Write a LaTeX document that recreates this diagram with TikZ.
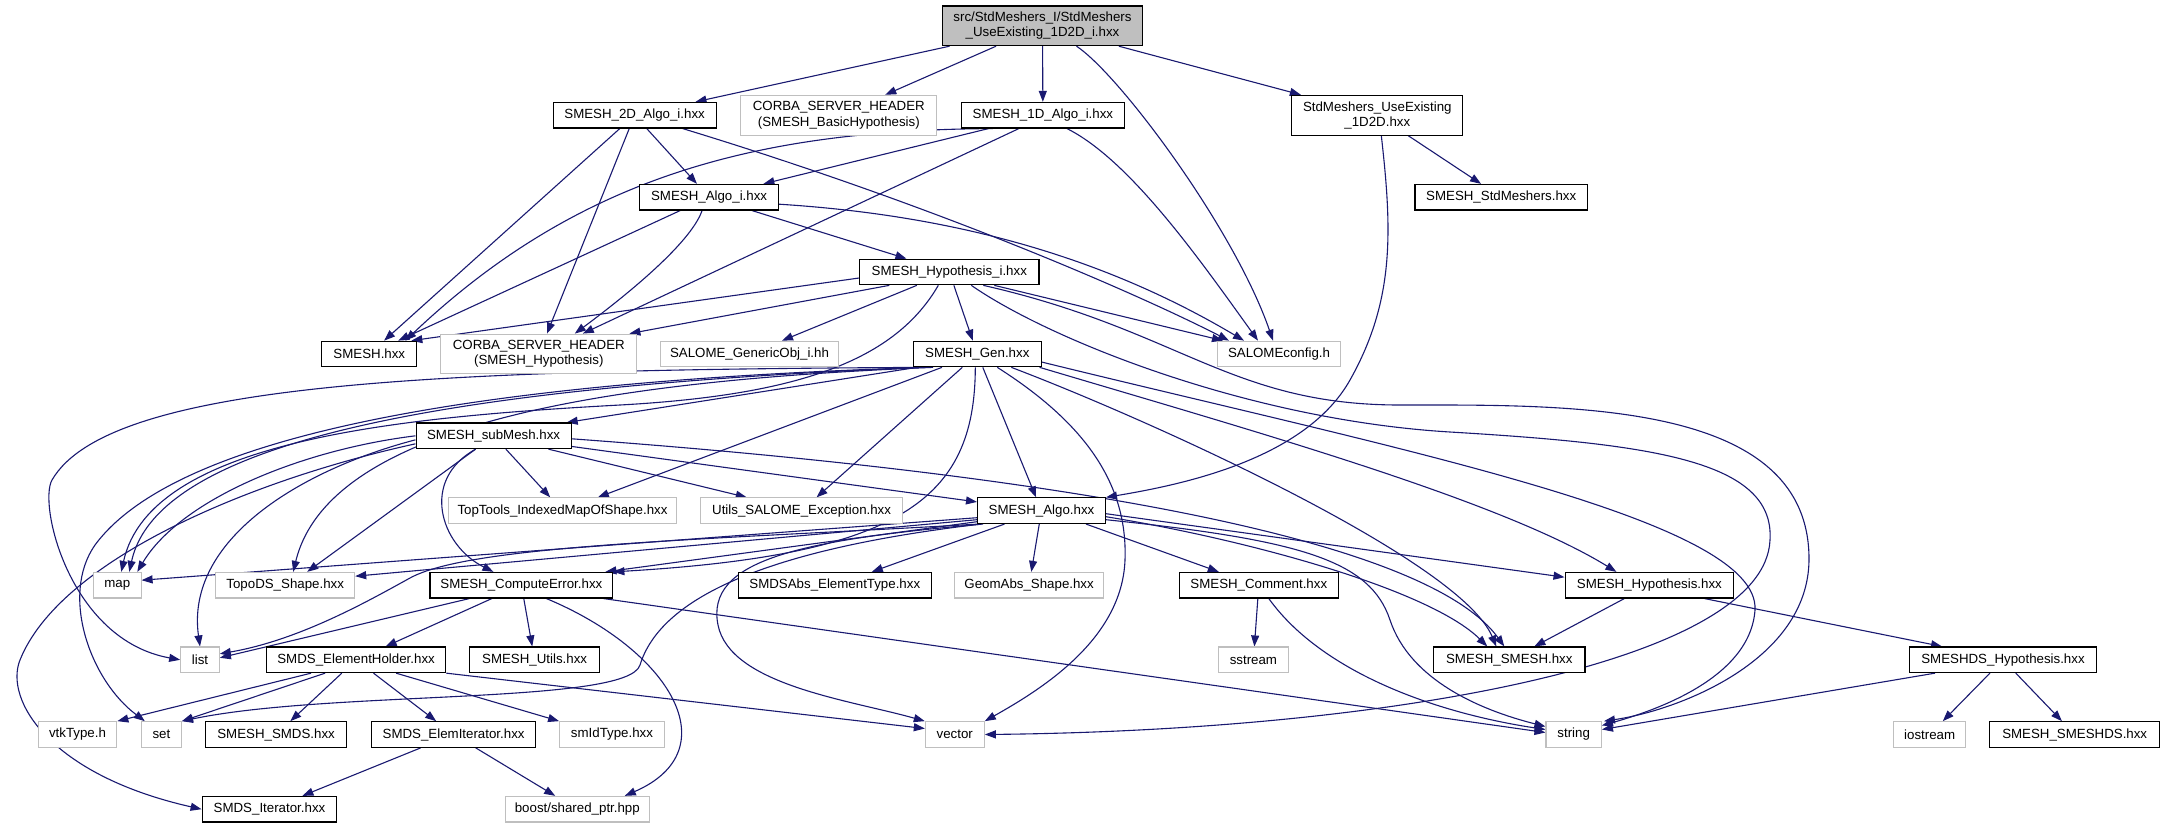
\documentclass[tikz,border=0pt]{standalone}
\usepackage{fontspec}
\setmainfont{Liberation Sans}
\usetikzlibrary{arrows.meta,calc}
\definecolor{edgeblue}{HTML}{191970}
\definecolor{extgray}{HTML}{BFBFBF}
\pgfdeclarelayer{bg}
\pgfsetlayers{bg,main}
\begin{document}
\begin{tikzpicture}[x=1pt,y=-1pt,
  nd/.style={draw=black,line width=1.1pt,fill=white,inner sep=0pt,minimum height=25.6pt,align=center,font=\fontsize{13.3}{15.3}\selectfont},
  ext/.style={nd,draw=extgray},
  dbl/.style={minimum height=39.7pt},
  rootn/.style={nd,fill=extgray},
  e/.style={draw=edgeblue,line width=1.1pt,-{Triangle[length=11pt,width=8pt]}}]
\useasboundingbox (0,0) rectangle (2165,828);

% row 0
\node[rootn,dbl,minimum width=199.2pt] (root) at (1042.5,25.8) {src/StdMeshers\_I/StdMeshers\\\_UseExisting\_1D2D\_i.hxx};
% row 1
\node[nd,minimum width=162.9pt] (a2d) at (634.6,115.2) {SMESH\_2D\_Algo\_i.hxx};
\node[ext,dbl,minimum width=196.1pt] (cbh) at (838.8,115.2) {CORBA\_SERVER\_HEADER\\(SMESH\_BasicHypothesis)};
\node[nd,minimum width=162.9pt] (a1d) at (1042.9,115.2) {SMESH\_1D\_Algo\_i.hxx};
\node[nd,dbl,minimum width=171.1pt] (ue) at (1377.3,115.2) {StdMeshers\_UseExisting\\\_1D2D.hxx};
% row 2
\node[nd,minimum width=139pt] (algoi) at (709.1,197.2) {SMESH\_Algo\_i.hxx};
\node[nd,minimum width=172.5pt] (stdm) at (1501.2,197.2) {SMESH\_StdMeshers.hxx};
% row 3
\node[nd,minimum width=179.3pt] (hypi) at (949.3,272) {SMESH\_Hypothesis\_i.hxx};
% row 4
\node[nd,minimum width=95pt] (smesh) at (369.3,354) {SMESH.hxx};
\node[ext,dbl,minimum width=196.1pt] (ch) at (538.8,354) {CORBA\_SERVER\_HEADER\\(SMESH\_Hypothesis)};
\node[ext,minimum width=177.5pt] (gobj) at (749.5,354) {SALOME\_GenericObj\_i.hh};
\node[nd,minimum width=127.5pt] (gen) at (977.3,354) {SMESH\_Gen.hxx};
\node[ext,minimum width=122.9pt] (sconf) at (1279,354) {SALOMEconfig.h};
% row 5
\node[nd,minimum width=155.1pt] (sub) at (493.6,435.8) {SMESH\_subMesh.hxx};
% row 6
\node[ext,minimum width=228.6pt] (tt) at (562.5,510.7) {TopTools\_IndexedMapOfShape.hxx};
\node[ext,minimum width=201.8pt] (ue2) at (801.6,510.7) {Utils\_SALOME\_Exception.hxx};
\node[nd,minimum width=127.9pt] (algo) at (1041.5,510.7) {SMESH\_Algo.hxx};
% row 7
\node[ext,minimum width=47.5pt] (nmap) at (117.3,585.2) {map};
\node[ext,minimum width=138.9pt] (topo) at (285.2,585.2) {TopoDS\_Shape.hxx};
\node[nd,minimum width=182.9pt] (ce) at (521.4,585.2) {SMESH\_ComputeError.hxx};
\node[nd,minimum width=192.5pt] (sabs) at (834.8,585.2) {SMDSAbs\_ElementType.hxx};
\node[ext,minimum width=149.6pt] (geom) at (1029.1,585.2) {GeomAbs\_Shape.hxx};
\node[nd,minimum width=158.9pt] (comm) at (1258.8,585.2) {SMESH\_Comment.hxx};
\node[nd,minimum width=168.7pt] (hyp) at (1649.4,585.2) {SMESH\_Hypothesis.hxx};
% row 8
\node[ext,minimum width=38.6pt] (nlist) at (200,659.8) {list};
\node[nd,minimum width=179.3pt] (eh) at (356.1,659.8) {SMDS\_ElementHolder.hxx};
\node[nd,minimum width=130pt] (utils) at (534.6,659.8) {SMESH\_Utils.hxx};
\node[ext,minimum width=69.6pt] (sstream) at (1253.4,659.8) {sstream};
\node[nd,minimum width=151.4pt] (ss) at (1509.3,659.8) {SMESH\_SMESH.hxx};
\node[nd,minimum width=186.3pt] (dshyp) at (2003,659.8) {SMESHDS\_Hypothesis.hxx};
% row 9
\node[ext,minimum width=78.6pt] (vtk) at (77.5,734.5) {vtkType.h};
\node[ext,minimum width=40pt] (nset) at (161.4,734.5) {set};
\node[nd,minimum width=141.4pt] (smds) at (276.1,734.5) {SMESH\_SMDS.hxx};
\node[nd,minimum width=164.3pt] (ei) at (453.6,734.5) {SMDS\_ElemIterator.hxx};
\node[ext,minimum width=104.7pt] (smid) at (612,734.5) {smIdType.hxx};
\node[ext,minimum width=58.9pt] (nvec) at (954.8,734.5) {vector};
\node[ext,minimum width=55.4pt] (nstr) at (1573.7,734.5) {string};
\node[ext,minimum width=72.1pt] (ios) at (1929.7,734.5) {iostream};
\node[nd,minimum width=169.7pt] (smeshds) at (2074.7,734.5) {SMESH\_SMESHDS.hxx};
% row 10
\node[nd,minimum width=134.7pt] (iter) at (269.5,809.2) {SMDS\_Iterator.hxx};
\node[ext,minimum width=143.9pt] (boost) at (577.3,809.2) {boost/shared\_ptr.hpp};

\begin{pgfonlayer}{bg}
% root
\draw[e] (root) -- (a2d);
\draw[e] (root) -- (cbh);
\draw[e] (root) -- (a1d);
\draw[e] (root) -- (ue);
\draw[e] ($(root.south)+(34,0)$) .. controls (1120,75) and (1235,230) .. ($(sconf.north)+(-6,0)$);
% 2D algo
\draw[e] (a2d) -- (algoi);
\draw[e] (a2d) -- (smesh);
\draw[e] (a2d) -- (ch);
\draw[e] ($(a2d.south)+(48,0)$) .. controls (950,210) and (1150,300) .. ($(sconf.north)+(-50,0)$);
% 1D algo
\draw[e] (a1d) -- (algoi);
\draw[e] ($(a1d.south)+(-50,0)$) .. controls (760,130) and (580,175) .. ($(smesh.north east)+(-12,0)$);
\draw[e] ($(a1d.south)+(-24,0)$) -- ($(ch.north)+(44,0)$);
\draw[e] ($(a1d.south)+(24,0)$) .. controls (1130,160) and (1200,260) .. ($(sconf.north)+(-21,0)$);
% Algo_i
\draw[e] (algoi) -- (hypi);
\draw[e] (algoi) -- (smesh);
\draw[e] ($(algoi.south)+(-7,0)$) .. controls (690,245) and (620,300) .. ($(ch.north)+(36,0)$);
\draw[e] ($(algoi.east)+(0,7)$) .. controls (950,215) and (1100,255) .. ($(sconf.north)+(-35,0)$);
% Hypothesis_i
\draw[e] ($(hypi.west)+(0,6)$) -- ($(smesh.north east)+(-6,0)$);
\draw[e] ($(hypi.south)+(-60,0)$) -- ($(ch.north east)+(-8,0)$);
\draw[e] (hypi) -- (gobj);
\draw[e] (hypi) -- (gen);
\draw[e] ($(hypi.south)+(45,0)$) -- ($(sconf.north)+(-56,0)$);
\draw[e] ($(hypi.south)+(-11,0)$) .. controls (895,360) and (800,395) .. (620,405) .. controls (400,417) and (150,440) .. ($(nmap.north)+(4,0)$);
\draw[e] ($(hypi.south)+(22,0)$) .. controls (1050,340) and (1250,420) .. (1450,432) .. controls (1650,444) and (1775,460) .. (1770,540) .. controls (1765,660) and (1400,730) .. (nvec.east);
\draw[e] ($(hypi.south)+(34,0)$) .. controls (1180,330) and (1230,405) .. (1400,405) .. controls (1570,405) and (1810,400) .. (1809,560) .. controls (1808,660) and (1680,710) .. ($(nstr.north east)+(2,0)$);
% Gen
\draw[e] ($(gen.south west)+(4,0)$) -- ($(sub.north east)+(-5,0)$);
\draw[e] ($(gen.south west)+(8,0)$) .. controls (500,385) and (160,430) .. ($(nmap.north)+(12,0)$);
\draw[e] ($(gen.south west)+(12,0)$) .. controls (450,370) and (110,380) .. (52,480) .. controls (38,505) and (70,640) .. (nlist.west);
\draw[e] ($(gen.south west)+(16,0)$) .. controls (500,380) and (180,430) .. (95,545) .. controls (60,595) and (90,680) .. ($(nset.north west)+(4,0)$);
\draw[e] ($(gen.south west)+(20,0)$) .. controls (620,380) and (330,420) .. ($(topo.north)+(8,0)$);
\draw[e] (gen) -- (tt);
\draw[e] (gen) -- (ue2);
\draw[e] (gen) -- (algo);
\draw[e] ($(gen.south)+(-2,0)$) .. controls (975,500) and (900,555) .. (ce.north east);
\draw[e] ($(gen.south)+(20,0)$) .. controls (1080,420) and (1128,480) .. (1125,560) .. controls (1122,640) and (1040,690) .. (nvec.north east);
\draw[e] ($(gen.south)+(34,0)$) .. controls (1150,420) and (1460,560) .. ($(ss.north)+(-13,0)$);
\draw[e] ($(gen.south east)+(-2,0)$) .. controls (1250,430) and (1500,500) .. ($(hyp.north)+(-33,0)$);
\draw[e] ($(gen.east)+(0,8)$) .. controls (1400,450) and (1760,520) .. (1755,610) .. controls (1750,680) and (1650,712) .. ($(nstr.east)+(0,-9)$);
% subMesh
\draw[e] (sub) -- (tt);
\draw[e] (sub) -- (ue2);
\draw[e] (sub) -- (algo);
\draw[e] ($(sub.east)+(0,3)$) .. controls (1000,470) and (1420,530) .. ($(ss.north)+(-5,0)$);
\draw[e] ($(sub.south)+(-18,0)$) .. controls (420,480) and (440,545) .. ($(ce.north)+(-28,0)$);
\draw[e] ($(sub.south)+(-18,0)$) -- ($(topo.north)+(22,0)$);
\draw[e] ($(sub.west)+(0,4)$) .. controls (300,470) and (185,540) .. (nlist.north);
\draw[e] ($(sub.west)+(0,8)$) .. controls (250,480) and (60,560) .. (20,660) .. controls (4,700) and (50,775) .. (iter.west);
\draw[e] (sub.west) .. controls (300,450) and (180,500) .. ($(nmap.north)+(20,0)$);
% SMESH_Algo
\draw[e] ($(algo.west)+(0,7)$) -- ($(nmap.east)+(0,-5)$);
\draw[e] ($(algo.west)+(0,9)$) -- ($(topo.east)+(0,-9)$);
\draw[e] ($(algo.west)+(0,11)$) -- ($(ce.north east)+(-8,0)$);
\draw[e] ($(algo.south west)+(2,0)$) .. controls (700,540) and (470,545) .. (410,578) .. controls (370,600) and (300,640) .. ($(nlist.east)+(0,-6)$);
\draw[e] ($(algo.south west)+(4,0)$) .. controls (760,550) and (660,600) .. (640,665) .. controls (628,705) and (330,690) .. (nset.north east);
\draw[e] ($(algo.south west)+(6,0)$) .. controls (800,540) and (705,560) .. (718,625) .. controls (730,685) and (850,700) .. (nvec.north west);
\draw[e] ($(algo.south)+(-37,0)$) -- ($(sabs.north)+(37,0)$);
\draw[e] (algo) -- (geom);
\draw[e] ($(algo.south east)+(-20,0)$) -- ($(comm.north)+(-40,0)$);
\draw[e] ($(algo.east)+(0,3)$) -- ($(hyp.west)+(0,-8)$);
\draw[e] ($(algo.east)+(0,6)$) .. controls (1250,540) and (1430,590) .. ($(ss.north)+(-22,0)$);
\draw[e] ($(algo.east)+(0,9)$) .. controls (1300,540) and (1370,560) .. (1390,620) .. controls (1410,680) and (1480,710) .. ($(nstr.west)+(0,-8)$);
% Comment
\draw[e] (comm) -- (sstream);
\draw[e] ($(comm.south)+(10,0)$) .. controls (1320,670) and (1430,712) .. ($(nstr.west)+(0,-5)$);
% ComputeError
\draw[e] ($(ce.south east)+(-10,0)$) -- ($(nstr.west)+(0,-2)$);
\draw[e] ($(ce.south)+(-52,0)$) -- ($(nlist.east)+(0,-2)$);
\draw[e] (ce) -- (eh);
\draw[e] (ce) -- (utils);
\draw[e] ($(ce.south)+(25,0)$) .. controls (670,650) and (730,750) .. ($(boost.north east)+(-25,0)$);
% ElementHolder
\draw[e] ($(eh.south)+(-45,0)$) -- (vtk.north east);
\draw[e] ($(eh.south)+(-31,0)$) -- (nset.north east);
\draw[e] (eh) -- (smds);
\draw[e] (eh) -- (ei);
\draw[e] ($(eh.south)+(40,0)$) -- (smid.north west);
\draw[e] (eh.south east) -- ($(nvec.west)+(0,-6)$);
% ElemIterator
\draw[e] (ei) -- (iter);
\draw[e] (ei) -- (boost);
% Hypothesis
\draw[e] (hyp) -- (ss);
\draw[e] ($(hyp.south)+(55,0)$) -- ($(dshyp.north)+(-61,0)$);
% SMESHDS_Hypothesis
\draw[e] ($(dshyp.south)+(-68,0)$) -- ($(nstr.east)+(0,-5)$);
\draw[e] (dshyp) -- (ios);
\draw[e] (dshyp) -- (smeshds);
% UseExisting
\draw[e] (ue) -- (stdm);
\draw[e] ($(ue.south)+(4,0)$) .. controls (1392,230) and (1395,300) .. (1350,380) .. controls (1305,460) and (1180,485) .. (algo.north east);
\end{pgfonlayer}
\end{tikzpicture}
\end{document}
